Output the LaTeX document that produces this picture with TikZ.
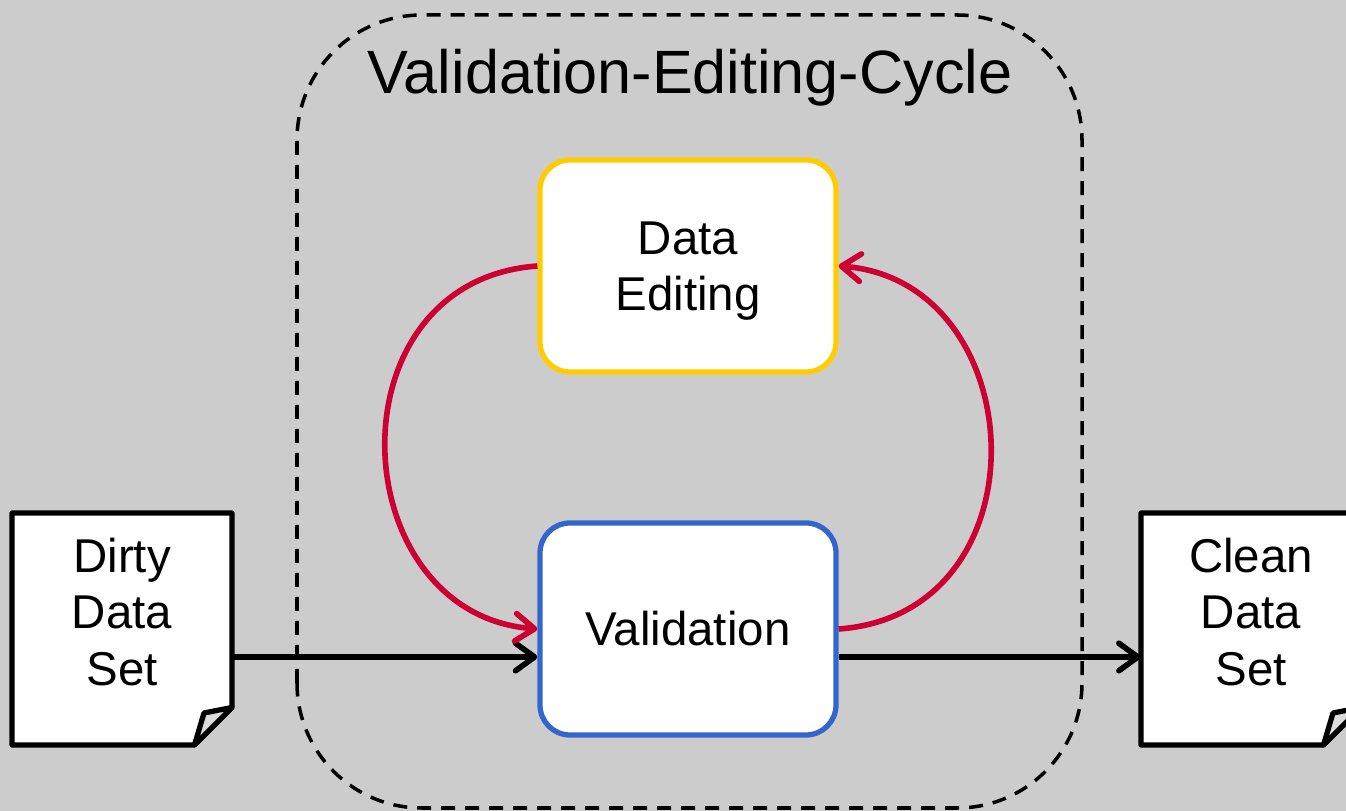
\documentclass[tikz,border=0pt]{standalone}
\usepackage{fontspec}
\setmainfont{Liberation Sans}
\usepackage{tikz}
\usetikzlibrary{arrows.meta}

\definecolor{bgGray}{RGB}{204,204,204}
\definecolor{flapGray}{RGB}{220,220,220}
\definecolor{editYellow}{RGB}{255,204,0}
\definecolor{validBlue}{RGB}{51,102,204}
\definecolor{loopRed}{RGB}{204,0,51}

\begin{document}
\begin{tikzpicture}
[boxDecorate/.style={shape=rectangle,rounded corners=0.6cm,draw,fill=white,line width=3pt,
   minimum width=5.92cm,minimum height=4.24cm,align=center,font=\fontsize{27}{32}\selectfont},%
  docDecorate/.style={draw,fill=white,line width=3pt,line join=round},%
  flapDecorate/.style={draw,fill=flapGray,line width=3pt,line join=round},%
  docText/.style={align=center,minimum width=4.4cm,inner sep=0pt,font=\fontsize{27}{32}\selectfont},%
  lineDecorate/.style={line width=3.2pt,-{Straight Barb[length=0.38cm,width=0.55cm,round]}},%
  loopDecorate/.style={lineDecorate,draw=loopRed}]
\fill[bgGray] (0,0) rectangle (26.92,16.22);
\useasboundingbox (0,0) rectangle (26.92,16.22);
%% the cycle frame
\draw[line width=2pt,dash pattern=on 0.28cm off 0.2cm,rounded corners=2.5cm]
  (5.94,0.06) rectangle (21.64,15.92);
\node (title) at (13.8,14.66) {\fontsize{34.8}{40}\selectfont Validation-Editing-Cycle};
%% documents
\foreach \nodename/\x/\txt in {dirty/2.44/Dirty, clean/25.02/Clean} {
  \draw[docDecorate] ({\x-2.2},5.96) -- ({\x+2.2},5.96) -- ({\x+2.2},2.07)
    -- ({\x+1.45},1.32) -- ({\x-2.2},1.32) -- cycle;
  \draw[flapDecorate] ({\x+2.2},2.07) -- ({\x+1.64},1.96) -- ({\x+1.45},1.32) -- cycle;
  \node (\nodename) at (\x,3.98) [docText] {\txt\\Data\\Set};
}
%% process boxes
\node (edit) at (13.76,10.9) [boxDecorate,draw=editYellow,text depth=0pt] {Data\\Editing};
\node (valid) at (13.76,3.64) [boxDecorate,draw=validBlue] {Validation};
%% connectors
\draw[lineDecorate] ([yshift=-0.9cm]dirty.east) -- ([yshift=-0.56cm]valid.west);
\draw[lineDecorate] ([yshift=-0.56cm]valid.east) -- ([yshift=-0.9cm]clean.west);
\draw[loopDecorate] (edit.west) .. controls +(-4.2,-0.3) and +(-3.9,0.3) .. (valid.west);
\draw[loopDecorate] (valid.east) .. controls +(4.2,0.3) and +(3.9,-0.3) .. (edit.east);
\end{tikzpicture}
\end{document}
